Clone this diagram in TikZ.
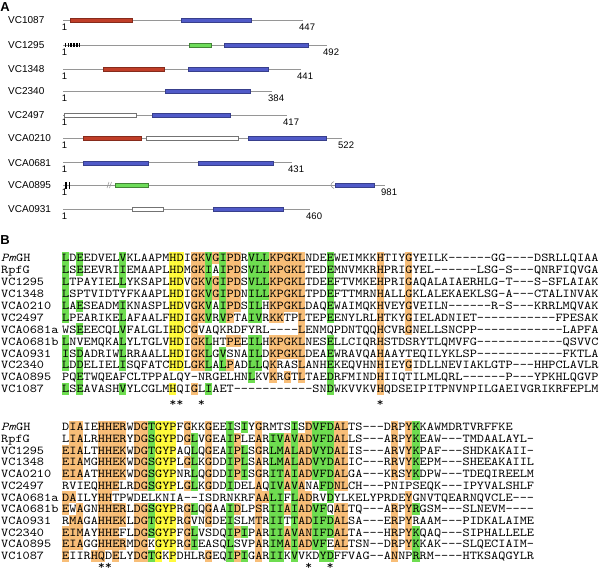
\documentclass[tikz,border=0pt]{standalone}
\usepackage{fontspec}
\setmainfont{Liberation Sans}
\newfontfamily\seqfont{lmmono10-regular.otf}[FakeStretch=1.135,ItalicFont=lmmono10-italic.otf]
\usetikzlibrary{positioning}
\definecolor{hlgreen}{RGB}{110,221,80}
\definecolor{hlyellow}{RGB}{255,250,60}
\definecolor{hlorange}{RGB}{248,190,120}
\definecolor{domred}{RGB}{192,62,40}
\definecolor{domblue}{RGB}{80,90,200}
\definecolor{domgreen}{RGB}{110,220,90}
\definecolor{bbgray}{RGB}{150,150,150}

\begin{document}
\begin{tikzpicture}[
    x=1pt,
    y=-1pt,
    panel/.style={anchor=center,inner sep=0pt,font=\fontsize{13}{13}\selectfont\bfseries},
    protname/.style={anchor=west,inner sep=0pt,font=\fontsize{10}{10}\selectfont},
    aanum/.style={anchor=center,inner sep=0pt,font=\fontsize{9.5}{9.5}\selectfont},
    backbone/.style={draw=bbgray,line width=0.9pt},
    dred/.style={draw=domred!70!black,fill=domred,line width=0.4pt},
    dblue/.style={draw=domblue!70!black,fill=domblue,line width=0.4pt},
    dgreen/.style={draw=domgreen!60!black,fill=domgreen,line width=0.4pt},
    dwhite/.style={draw=black!55,fill=white,line width=0.5pt},
    seq/.style={anchor=base west,inner sep=0pt,text height=7pt,text depth=0pt,font=\fontsize{12}{12}\seqfont},
    hlg/.style={fill=hlgreen},
    hly/.style={fill=hlyellow},
    hlo/.style={fill=hlorange},
    consv/.style={anchor=base,inner sep=0pt,text height=6pt,text depth=0pt,font=\fontsize{12}{12}\seqfont}
  ]
  \useasboundingbox (0,0) rectangle (600,571);

  % ---- A: domain architecture
  \node[panel] (labA) at (5,7.5) {A};
  \foreach \y/\nm/\e/\len in {20/VC1087/303/447,45/VC1295/327/492,69/VC1348/301/441,
      91/VC2340/272/384,115/VC2497/287/417,138/VCA0210/342/522,162.7/VCA0681/292/431,
      185/VCA0895/385/981,209/VCA0931/310/460} {
    \node[protname] (name\nm) at (8,\y) {\nm};
    \draw[backbone] (63,\y) -- (\e,\y);
    \node[aanum] (first\nm) at (64.5,\y+7) {1};
    \node[aanum,anchor=west] (last\nm) at (\e-4,\y+7) {\len};
  }
  \foreach \s/\a/\b/\y in {dred/70/131.7/20,dblue/181/250.7/20,
      dgreen/189.3/210.7/45,dblue/224.3/308.3/45,
      dred/102.7/164/69,dblue/188.3/268.3/69,
      dblue/165/250/91,
      dwhite/64.3/136/115,dblue/151.7/230/115,
      dred/83.3/141/138,dwhite/146.7/238.3/138,dblue/248.3/326/138,
      dblue/82.7/147.7/162.7,dblue/197.7/272.7/162.7,
      dgreen/115/147.7/185,dblue/335/374/185,
      dwhite/132.3/163.3/209,dblue/213.3/282.7/209}
    \draw[\s] (\a,\y-2) rectangle (\b,\y+2);
  % membrane segments
  \foreach \x in {65.5,68.3,71.1,73.9,76.7,79.5}
    \fill[black] (\x-0.8,43) rectangle (\x+0.8,47);
  \foreach \x in {66,69.6}
    \fill[black] (\x-0.7,181.5) rectangle (\x+0.7,188.5);
  % breaks on VCA0895
  \draw[bbgray,line width=0.5pt] (107,188) -- (109,182) (109.5,188) -- (111.5,182);
  \draw[bbgray,line width=0.6pt] (334,181.5) .. controls (330,183.5) and (330,186.5) .. (334,188.5);

  % ---- B: alignment
  \node[panel] (labB) at (5,240.5) {B};
  \foreach \r/\cols in {1/{1,3,9,21,23,27,28,29,38},2/{1,3,9,21,23,27,28,29,38},
      3/{1,9,21,23,27,28,29,38},4/{1,21,23,27,28,29,38},5/{1,3,9,21,23,27,28,38},
      6/{1,9,21,23,27,28,38},7/{3,9},8/{1,9,21,27,28,38},9/{1,3,9,21,23,27,28,38},
      10/{1,3,9,21,23,27,28,38},11/{3,27,38},12/{1,3,9,21,38}}
    \foreach \c in \cols
      \fill[hlg] ({62+(\c-1)*7.15},{258+(\r-1)*11.9-5.95}) rectangle ++(7.15,11.9);
  \foreach \r/\cols in {1/{16,17},2/{16,17},3/{16,17},4/{16,17},5/{16,17},6/{16,17},
      7/{16,17},8/{16,17},9/{16,17},10/{16,17},12/{16}}
    \foreach \c in \cols
      \fill[hly] ({62+(\c-1)*7.15},{258+(\r-1)*11.9-5.95}) rectangle ++(7.15,11.9);
  \foreach \r/\cols in {1/{19,20,22,24,25,30,31,32,33,34,45,49},2/{19,20,24,25,30,31,32,33,34,45,49},
      3/{19,20,22,24,25,30,31,32,33,34,45,49},4/{19,20,22,24,25,30,31,32,33,34,45,49},
      5/{19,20,24,25,30,31,32,33,34,45,49},6/{19,20,24,30,31,34,45,49},7/{19,34,45,49},
      8/{19,20,24,25,30,31,32,33,34,45},9/{19,20,30,31,32,33,34,45},10/{19,20,24,30,34,45,49},
      11/{30,32,34,45},12/{19,45}}
    \foreach \c in \cols
      \fill[hlo] ({62+(\c-1)*7.15},{258+(\r-1)*11.9-5.95}) rectangle ++(7.15,11.9);

  \foreach \r/\cols in {1/{13,24,26,33,36,37,38,50},2/{13,19,24,30,31,33,36,37,38,50},
      3/{13,19,24,26,30,31,33,36,37,38,50},4/{13,19,24,26,30,31,33,36,37,38,50},
      5/{13,19,24,26,30,31,33,36,37,38,50},6/{13,19,24,30,31,33,37,38},7/{30,31,33,38},
      8/{13,19,24,30,31,33,36,37,50},9/{13,24,30,31,33,36,37,38},
      10/{13,19,24,26,30,31,33,36,37,38,50},11/{19,24,30,31,33,36,37,50},
      12/{13,24,26,30,31,33,37,38,50}}
    \foreach \c in \cols
      \fill[hlg] ({62+(\c-1)*7.15},{427+(\r-1)*11.7-5.9}) rectangle ++(7.15,11.8);
  \foreach \r/\cols in {1/{14,15,16},2/{14,15,16},3/{14,15,16},4/{14,15,16},5/{14,15,16},
      6/{14,15,16},8/{14,15,16},9/{14,15,16},10/{14,15,16},11/{14,15,16},12/{14,16}}
    \foreach \c in \cols
      \fill[hly] ({62+(\c-1)*7.15},{427+(\r-1)*11.7-5.9}) rectangle ++(7.15,11.8);
  \foreach \r/\cols in {1/{2,3,6,7,8,9,11,12,18,21,28,35,39,40,47,49},
      2/{2,3,6,7,8,9,11,12,18,21,25,28,32,34,35,39,40,47,49},
      3/{1,2,3,6,7,8,9,11,12,21,25,28,32,34,35,39,40,47,49},
      4/{1,2,3,6,7,8,9,11,12,18,21,25,28,32,34,35,39,40,47,49},
      5/{1,2,3,6,7,8,9,11,12,21,25,28,32,34,35,39,40,47,49},
      6/{6,7,8,11,12,18,21,28,32,34,39,40},
      7/{1,2,6,7,28,29,34,35,49},
      8/{1,3,6,7,8,9,11,12,18,21,25,28,32,34,35,39,40,47,49},
      9/{2,3,6,7,8,9,11,12,18,21,28,34,35,39,40,47,49},
      10/{1,2,3,6,7,8,11,12,18,25,28,32,34,35,39,40,47,49},
      11/{1,2,3,6,7,8,9,11,12,18,28,32,34,35,39,40,47,49},
      12/{1,5,6,8,11,12,21,25,28,47}}
    \foreach \c in \cols
      \fill[hlo] ({62+(\c-1)*7.15},{427+(\r-1)*11.7-5.9}) rectangle ++(7.15,11.8);

  \foreach \r/\nm/\sq in {
      1/{\textit{Pm}GH}/LDEEDVELVKLAAPMHDIGKVGIPDRVLLKPGKLNDEEWEIMKKHTIYGYEILK------GG----DSRLLQIAA,
      2/RpfG/LSEEEVRIIEMAAPLHDMGKIAIPDSVLLKPGKLTEDEMNVMKRHPRIGYEL------LSG-S---QNRFIQVGA,
      3/VC1295/LTPAYIELLYKSAPLHDVGKVGIPDSVLLKPGKLTDEEFTVMKEHPRIGAQALAIAERHLG-T---S-SFLAIAK,
      4/VC1348/LSPTVIDTYFKAAPLHDIGKVGIPDNILLKPGKLTPDEFTTMRNHALLGKLALEKAEKLSG-A---CTALINVAK,
      5/VCA0210/LAESEADMIKNASPLHDVGKVAIPDSILHKPGKLDAQEWAIMQKHVEYGVEILN------R-S---KRRLMQVAK,
      6/VC2497/LPEARIKELAFAALFHDIGKVRVPTAIVRKKTPLTEPEENYLRLHTKYGIELADNIET-----------FPESAK,
      7/VCA0681a/WSEEECQLVFALGLIHDCGVAQKRDFYRL----LENMQPDNTQQHCVRGNELLSNCPP------------LAPFA,
      8/VCA0681b/LNVEMQKALYLTGLVHDIGKLHTPEEILHKPGKLNESELLCIQRHSTDSRYTLQMVFG------------QSVVC,
      9/VCA0931/ISDADRIWLRRAALLHDIGKLGVSNAILDKPGKLDEAEWRAVQAHAAYTEQILYKLSP------------FKTLA,
      10/VC2340/LDDELIELISQFATCHDLGKLALPADLLQKRASLANHEKEQVHNHIEYGIDLLNEVIAKLGTP---HHPCLAVLR,
      11/VCA0895/PQETWQEAFCLTPPALQY-NRGELHNLKVKRGTLTAEDRFMINDHIIQTILMLQRL------P---YPKHLQGVP,
      12/VC1087/LSEAVASHVYLCGLMHQIGLIAET-----------SNDWKVVKVHQDSEIPITPNVNPILGAEIVGRIKRFEPLM} {
    \node[seq] (top\r name) at (1,{258+(\r-1)*11.9+3.8}) {\nm};
    \node[seq] (top\r seq) at (62,{258+(\r-1)*11.9+3.8}) {\sq};
  }
  \foreach \c in {16,17,20,45}
    \node[consv] (topstar\c) at ({62+(\c-0.5)*7.15},406.5) {*};

  \foreach \r/\nm/\sq in {
      1/{\textit{Pm}GH}/DIAIEHHERWDGTGYPFGKKGEEISIYGRMTSISDVFDALTS---DRPYKKAWMDRTVRFFKE,
      2/RpfG/LIALRHHERYDGSGYPDGLVGEAIPLEARIVAVADVFDALLS---ARPYKEAW---TMDAALAYL-,
      3/VC1295/EIALTHHEKWDGTGYPAQLQGEAIPLSGRLMALADVYDALIS---ARVYKPAF---SHDKAKAII-,
      4/VC1348/EIAMGHHEKWDGSGYPLGLKGDDIPLSARLMALADVYDALIC---RRVYKEPM---SHEEAKAIIL,
      5/VCA0210/EIAATHHEKWDGSGYPNRLQGDDIPISGRITAIADVFDALGA---KRSYKDPW---TDEQIREELM,
      6/VC2497/RVIEQHHELRDGSGYPLGLKGDDIDELAQIVAVANAFDNLCH---PNIPSEQK---IPYVALSHLF,
      7/VCA0681a/DAILYHHTPWDELKNIA--ISDRNKRFAALIFLADRVDYLKELYPRDEYGNVTQEARNQVCLE---,
      8/VCA0681b/EWAGNHHERLDGSGYPRGLQGAAIDLPSRIIAIADVFQALTQ---ARPYRGSM---SLNEVM----,
      9/VCA0931/RMAGAHHEKLDGTGYPRGVNGDEISLMTRIITTADIFDALSA---ERPYRAAM---PIDKALAIME,
      10/VC2340/EIMAYHHEFLDGSGYPFGLVSDQIPIPARIIAVANIFDALTA---HRPYKQAQ---SIPHALLELE,
      11/VCA0895/EIAGGHHERMDGKGYPRGIEASQLSVPARIMAIADVFEALTSN--DRPYKKAK---SLQECIAIM-,
      12/VC1087/EIIRHQDELYDGTGKPDHLRGEQIPIGARIIKVVKDYDFFVAG--ANNPRRM----HTKSAQGYLR} {
    \node[seq] (bot\r name) at (1,{427+(\r-1)*11.7+3.8}) {\nm};
    \node[seq] (bot\r seq) at (62,{427+(\r-1)*11.7+3.8}) {\sq};
  }
  \foreach \c in {6,7,35,38}
    \node[consv] (botstar\c) at ({62+(\c-0.5)*7.15},569) {*};
\end{tikzpicture}
\end{document}
